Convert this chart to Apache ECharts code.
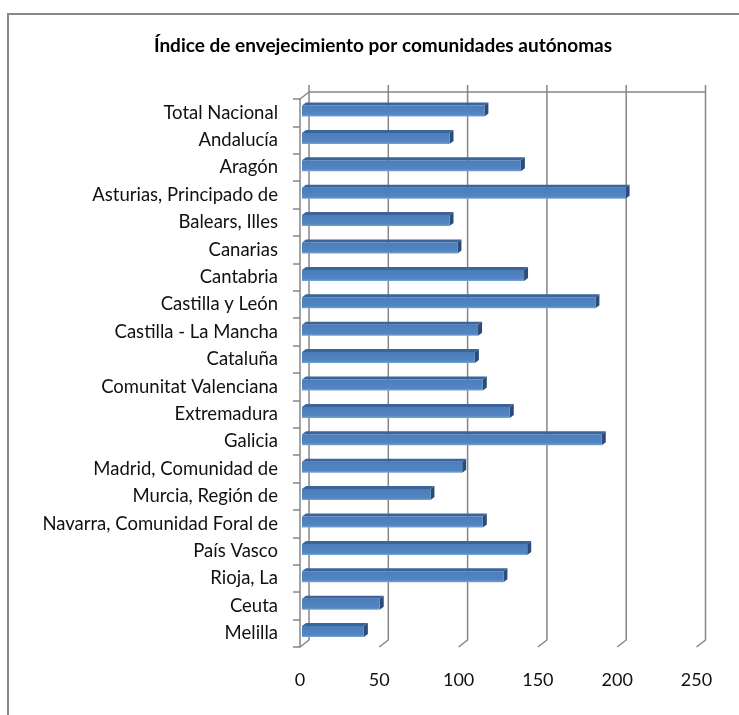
<!DOCTYPE html>
<html>
<head>
<meta charset="utf-8">
<script src="https://cdn.jsdelivr.net/npm/echarts@6/dist/echarts.min.js"></script>
<style>
html,body{margin:0;padding:0;background:#fff;}
#chart{width:739px;height:715px;}
</style>
</head>
<body>
<div id="chart"></div>
<script>
const titleText = 'Índice de envejecimiento por comunidades autónomas';
const categories = [
  'Total Nacional', 'Andalucía', 'Aragón', 'Asturias, Principado de', 'Balears, Illes',
  'Canarias', 'Cantabria', 'Castilla y León', 'Castilla - La Mancha', 'Cataluña',
  'Comunitat Valenciana', 'Extremadura', 'Galicia', 'Madrid, Comunidad de', 'Murcia, Región de',
  'Navarra, Comunidad Foral de', 'País Vasco', 'Rioja, La', 'Ceuta', 'Melilla'
];
const values = [115, 93, 138, 204, 93, 98, 140, 185, 111, 109, 114, 131, 189, 101, 81, 114, 142, 127, 49, 39];
const tickValues = [0, 50, 100, 150, 200, 250];

const FONT = 'Lato';
const GRID = '#868686';
const DEPTH_X = 9, DEPTH_Y = -7;

const chart = echarts.init(document.getElementById('chart'), null, {renderer: 'canvas'});

const option = {
  backgroundColor: '#ffffff',
  animation: false,
  title: {
    text: titleText,
    left: 378, top: 31, textAlign: 'center',
    textStyle: {fontFamily: FONT, fontSize: 19, fontWeight: 'bold', color: '#000'}
  },
  graphic: [{
    type: 'rect', shape: {x: 8, y: 14, width: 760, height: 760},
    style: {fill: 'none', stroke: '#888888', lineWidth: 2}, silent: true, z: 100
  }],
  grid: {left: 300, top: 99, width: 396.5, height: 548},
  xAxis: {
    type: 'value', min: 0, max: 250, interval: 50,
    axisLine: {show: false}, axisTick: {show: false}, splitLine: {show: false},
    axisLabel: {fontFamily: FONT, fontSize: 18, color: '#111', margin: 24}
  },
  yAxis: {
    type: 'category', data: categories, inverse: true,
    axisLine: {show: true, lineStyle: {color: GRID, width: 1.5}},
    axisTick: {show: true, length: 7, lineStyle: {color: GRID, width: 1.5}},
    axisLabel: {fontFamily: FONT, fontSize: 18.5, color: '#111', margin: 22},
    splitLine: {show: false}
  },
  series: [
    {
      type: 'custom', name: 'grid', silent: true, z: 1,
      data: tickValues.map(v => [v, 0]),
      encode: {x: 0, y: 1},
      renderItem: function (params, api) {
        const cs = params.coordSys;
        const fx = api.coord([api.value(0), 0])[0];
        const top = cs.y, bottom = cs.y + cs.height;
        const ls = {stroke: GRID, lineWidth: 1.5, fill: 'none'};
        const children = [{
          type: 'polyline',
          shape: {points: [[fx + DEPTH_X, top + DEPTH_Y - 7], [fx + DEPTH_X, bottom + DEPTH_Y], [fx, bottom]]},
          style: ls
        }];
        if (params.dataIndex === 0) {
          children.push({
            type: 'line',
            shape: {x1: cs.x + DEPTH_X, y1: top + DEPTH_Y, x2: cs.x + cs.width + DEPTH_X, y2: top + DEPTH_Y},
            style: ls
          });
          children.push({
            type: 'line',
            shape: {x1: cs.x, y1: top, x2: cs.x + DEPTH_X, y2: top + DEPTH_Y},
            style: ls
          });
        }
        return {type: 'group', children: children};
      }
    },
    {
      type: 'custom', name: 'Índice', z: 3,
      data: values.map((v, i) => [v, i]),
      encode: {x: 0, y: 1},
      renderItem: function (params, api) {
        const idx = api.value(1);
        const p0 = api.coord([0, idx]);
        const p1 = api.coord([api.value(0), idx]);
        const x0 = p0[0] + 2, x1 = p1[0] + 2;
        const cy = p1[1] - 1.7;
        const h = 11, dx = 4, dy = -3;
        const yt = cy - h / 2, yb = cy + h / 2;
        return {
          type: 'group',
          children: [
            {type: 'polygon', shape: {points: [[x0, yt], [x1, yt], [x1 + dx, yt + dy], [x0 + dx, yt + dy]]},
             style: {fill: '#3A659B'}},
            {type: 'polygon', shape: {points: [[x1, yt], [x1 + dx, yt + dy], [x1 + dx, yb + dy], [x1, yb]]},
             style: {fill: '#2B4C78'}},
            {type: 'rect', shape: {x: x0, y: yt, width: x1 - x0, height: h},
             style: {fill: new echarts.graphic.LinearGradient(0, 0, 0, 1, [
               {offset: 0, color: '#4A7DBA'}, {offset: 0.8, color: '#5286C3'}, {offset: 1, color: '#79A2D4'}])}}
          ]
        };
      }
    }
  ]
};
chart.setOption(option);
</script>
</body>
</html>
